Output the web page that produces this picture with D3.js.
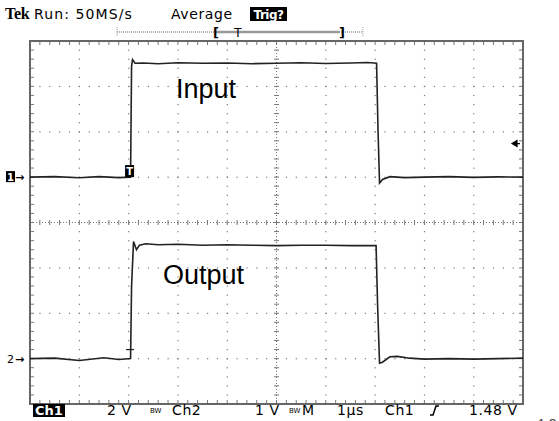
<!DOCTYPE html>
<html>
<head>
<meta charset="utf-8">
<script src="https://cdn.jsdelivr.net/npm/d3@7"></script>
<style>
  body { margin: 0; background: #fff; }
  svg { display: block; font-family: "DejaVu Sans", "Liberation Sans", sans-serif; }
</style>
</head>
<body>
<div id="plot"></div>
<script>
// Scope settings
const timePerDiv = 1;          // µs
const ch1VoltsPerDiv = 2;
const ch2VoltsPerDiv = 1;
const ch1GroundDiv = 1;        // divisions above centre
const ch2GroundDiv = -3;
const triggerTime = 2.05;      // µs
const triggerLevel = 1.48;     // V on Ch1

// Input (Ch1) trace, time in µs and volts
const inputTime = [0, 0.5, 1.0, 1.4, 1.8, 2.04, 2.06, 2.08, 2.13, 2.3, 2.6, 3.0, 3.5, 4.0, 4.5, 5.0, 5.5, 6.0, 6.5, 6.85, 7.03, 7.06, 7.09, 7.15, 7.3, 7.6, 8.0, 8.5, 9.0, 9.5, 10];
const inputVolts = [0, 0.02, -0.03, 0.02, -0.02, 0, 4.9, 5.18, 5.02, 5.03, 5.0, 5.04, 5.02, 5.03, 5.0, 5.02, 5.04, 5.01, 5.03, 5.05, 5.02, 2.0, -0.26, -0.1, 0.02, -0.02, 0, 0.02, -0.01, 0.01, 0];

// Output (Ch2) trace
const outputTime = [0, 0.5, 1.0, 1.5, 1.8, 2.04, 2.06, 2.1, 2.16, 2.22, 2.35, 2.6, 3.0, 3.5, 4.0, 4.5, 5.0, 5.5, 6.0, 6.5, 7.02, 7.05, 7.09, 7.15, 7.3, 7.45, 7.7, 8.0, 8.5, 9.0, 9.5, 10];
const outputVolts = [0, 0.01, -0.04, 0.02, -0.02, 0, 1.6, 2.58, 2.4, 2.5, 2.53, 2.51, 2.52, 2.5, 2.51, 2.5, 2.49, 2.5, 2.5, 2.49, 2.49, 1.2, -0.1, -0.08, 0.04, 0.05, 0.01, -0.01, 0, -0.01, 0, 0.01];

// Readout texts
const topLabels = ["Run: 50MS/s", "Average"];
const bottomLabels = [
  { text: "2 V", x: 107 }, { text: "Ch2", x: 172 }, { text: "1 V", x: 255 },
  { text: "M", x: 302 }, { text: "1µs", x: 337 }, { text: "Ch1", x: 385 }, { text: "1.48 V", x: 469 }
];

const w = 559, h = 421;
const frame = { left: 30, right: 523, top: 41, bottom: 404 };
const hDivs = 10, vDivs = 8;

const svg = d3.select("#plot").append("svg").attr("width", w).attr("height", h);

const x = d3.scaleLinear().domain([0, hDivs * timePerDiv]).range([frame.left, frame.right]);
const yDiv = d3.scaleLinear().domain([-vDivs / 2, vDivs / 2]).range([frame.bottom, frame.top]);
const yCh1 = v => yDiv(ch1GroundDiv + v / ch1VoltsPerDiv);
const yCh2 = v => yDiv(ch2GroundDiv + v / ch2VoltsPerDiv);

const grid = svg.append("g").attr("fill", "#777").attr("stroke", "#777");
const minorX = d3.range(0, hDivs * 5 + 1).map(i => i / 5);
const minorY = d3.range(-vDivs * 5 / 2, vDivs * 5 / 2 + 1).map(i => i / 5);

// dotted graticule lines
d3.range(1, hDivs).forEach(i => {
  if (i === hDivs / 2) return;
  minorY.forEach(d => grid.append("rect")
    .attr("x", x(i) - 0.5).attr("y", yDiv(d) - 0.5).attr("width", 1.2).attr("height", 1.2).attr("stroke", "none"));
});
d3.range(-vDivs / 2 + 1, vDivs / 2).forEach(j => {
  if (j === 0) return;
  minorX.forEach(d => grid.append("rect")
    .attr("x", x(d) - 0.5).attr("y", yDiv(j) - 0.5).attr("width", 1.2).attr("height", 1.2).attr("stroke", "none"));
});

// centre cross with ticks
grid.append("line").attr("x1", frame.left).attr("x2", frame.right).attr("y1", yDiv(0)).attr("y2", yDiv(0))
  .attr("stroke-dasharray", "1,2").attr("stroke-width", 1);
grid.append("line").attr("y1", frame.top).attr("y2", frame.bottom).attr("x1", x(5)).attr("x2", x(5))
  .attr("stroke-dasharray", "1,2").attr("stroke-width", 1);
minorX.forEach(d => grid.append("line").attr("x1", x(d)).attr("x2", x(d))
  .attr("y1", yDiv(0) - 2.5).attr("y2", yDiv(0) + 2.5).attr("stroke-width", 1));
minorY.forEach(d => grid.append("line").attr("y1", yDiv(d)).attr("y2", yDiv(d))
  .attr("x1", x(5) - 2.5).attr("x2", x(5) + 2.5).attr("stroke-width", 1));

// frame ticks
minorX.forEach(d => {
  grid.append("line").attr("x1", x(d)).attr("x2", x(d)).attr("y1", frame.top).attr("y2", frame.top + 4);
  grid.append("line").attr("x1", x(d)).attr("x2", x(d)).attr("y1", frame.bottom).attr("y2", frame.bottom - 4);
});
minorY.forEach(d => {
  grid.append("line").attr("y1", yDiv(d)).attr("y2", yDiv(d)).attr("x1", frame.left).attr("x2", frame.left + 4);
  grid.append("line").attr("y1", yDiv(d)).attr("y2", yDiv(d)).attr("x1", frame.right).attr("x2", frame.right - 4);
});
grid.append("rect").attr("x", frame.left).attr("y", frame.top)
  .attr("width", frame.right - frame.left).attr("height", frame.bottom - frame.top)
  .attr("fill", "none").attr("stroke", "#666").attr("stroke-width", 2);

// traces
const lineCh1 = d3.line().x(d => x(d[0])).y(d => yCh1(d[1]));
const lineCh2 = d3.line().x(d => x(d[0])).y(d => yCh2(d[1]));
svg.append("path").datum(d3.zip(inputTime, inputVolts)).attr("d", lineCh1)
  .attr("fill", "none").attr("stroke", "#222").attr("stroke-width", 1.6);
svg.append("path").datum(d3.zip(outputTime, outputVolts)).attr("d", lineCh2)
  .attr("fill", "none").attr("stroke", "#222").attr("stroke-width", 1.6);

// trace labels
svg.append("text").attr("x", 176).attr("y", 98).attr("font-family", "Liberation Sans, Arial, sans-serif")
  .attr("font-size", 27).text("Input");
svg.append("text").attr("x", 163).attr("y", 284).attr("font-family", "Liberation Sans, Arial, sans-serif")
  .attr("font-size", 27).text("Output");

// trigger marker on Ch1
const tx = x(triggerTime);
svg.append("rect").attr("x", tx - 6).attr("y", yCh1(0) - 12).attr("width", 9).attr("height", 12).attr("fill", "#000");
svg.append("text").attr("x", tx - 1.5).attr("y", yCh1(0) - 2.5).attr("text-anchor", "middle")
  .attr("font-size", 10).attr("font-weight", "bold").attr("fill", "#fff").text("T");
// small mark on Ch2 edge
svg.append("line").attr("x1", tx - 5).attr("x2", tx + 3).attr("y1", yCh2(0.2)).attr("y2", yCh2(0.2))
  .attr("stroke", "#222").attr("stroke-width", 1.2);

// channel ground markers
svg.append("rect").attr("x", 6).attr("y", yCh1(0) - 6).attr("width", 9).attr("height", 11).attr("fill", "#000");
svg.append("text").attr("x", 10.5).attr("y", yCh1(0) + 3.5).attr("text-anchor", "middle")
  .attr("font-size", 10).attr("font-weight", "bold").attr("fill", "#fff").text("1");
svg.append("text").attr("x", 15).attr("y", yCh1(0) + 4).attr("font-size", 11).attr("font-weight", "bold").text("→");
svg.append("text").attr("x", 7).attr("y", yCh2(0) + 4).attr("font-size", 11).text("2");
svg.append("text").attr("x", 15).attr("y", yCh2(0) + 4).attr("font-size", 11).attr("font-weight", "bold").text("→");

// trigger level arrow
svg.append("path")
  .attr("d", `M512,${yCh1(triggerLevel)} L517,${yCh1(triggerLevel) - 3} L517,${yCh1(triggerLevel) + 3} Z M516,${yCh1(triggerLevel)} L520,${yCh1(triggerLevel)}`)
  .attr("fill", "#000").attr("stroke", "#000").attr("stroke-width", 1.2);

// header
svg.append("text").attr("x", 5).attr("y", 19).attr("font-family", "Liberation Serif, serif")
  .attr("font-weight", "bold").attr("font-size", 16).attr("letter-spacing", -0.3).text("Tek");
svg.append("text").attr("x", 34).attr("y", 19).attr("font-size", 14).attr("letter-spacing", 1.1).text(topLabels[0]);
svg.append("text").attr("x", 171).attr("y", 19).attr("font-size", 14).attr("letter-spacing", 0.6).text(topLabels[1]);
svg.append("rect").attr("x", 250).attr("y", 7).attr("width", 37).attr("height", 14).attr("fill", "#000");
svg.append("text").attr("x", 268.5).attr("y", 18.5).attr("text-anchor", "middle").attr("font-size", 12)
  .attr("font-weight", "bold").attr("fill", "#fff").attr("letter-spacing", -0.5).text("Trig?");

// record bar
const bar = svg.append("g").attr("stroke", "#999");
bar.append("line").attr("x1", 117).attr("x2", 363).attr("y1", 32).attr("y2", 32)
  .attr("stroke-dasharray", "1,1").attr("stroke-width", 1.5);
bar.append("line").attr("x1", 216).attr("x2", 340).attr("y1", 32).attr("y2", 32).attr("stroke-width", 2.5);
bar.append("line").attr("x1", 117).attr("x2", 117).attr("y1", 27).attr("y2", 37).attr("stroke-dasharray", "1,1");
bar.append("line").attr("x1", 363).attr("x2", 363).attr("y1", 27).attr("y2", 37).attr("stroke-dasharray", "1,1");
svg.append("text").attr("x", 213).attr("y", 37).attr("font-size", 13).attr("font-weight", "bold").text("[");
svg.append("text").attr("x", 339).attr("y", 37).attr("font-size", 13).attr("font-weight", "bold").text("]");
svg.append("text").attr("x", 238).attr("y", 37).attr("text-anchor", "middle").attr("font-size", 12).text("T");

// footer readout
svg.append("rect").attr("x", 33).attr("y", 404).attr("width", 32).attr("height", 13).attr("fill", "#000");
svg.append("text").attr("x", 49).attr("y", 415).attr("text-anchor", "middle").attr("font-size", 13)
  .attr("font-weight", "bold").attr("fill", "#fff").text("Ch1");
bottomLabels.forEach(d => svg.append("text").attr("x", d.x).attr("y", 415).attr("font-size", 14)
  .attr("letter-spacing", 0.6).text(d.text));
[150, 289].forEach(bx => svg.append("text").attr("x", bx).attr("y", 413).attr("font-size", 7).text("BW"));
svg.append("path").attr("d", "M430,415 L433,415 L436,406 L439,406")
  .attr("fill", "none").attr("stroke", "#000").attr("stroke-width", 1.5);
svg.append("text").attr("x", 536).attr("y", 428).attr("font-size", 13).attr("fill", "#444").text("4.8");
</script>
</body>
</html>
